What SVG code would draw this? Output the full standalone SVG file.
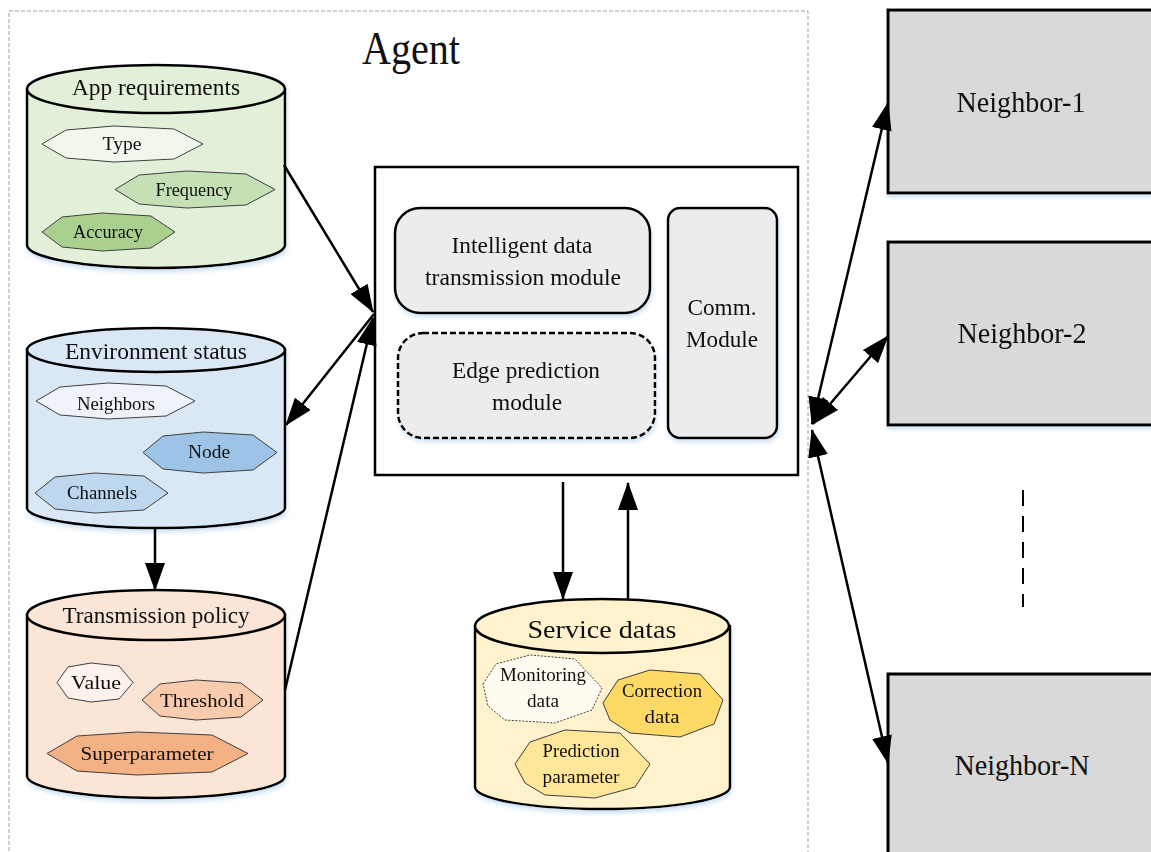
<svg xmlns="http://www.w3.org/2000/svg" width="1151" height="852" viewBox="0 0 1151 852">
<defs>
<marker id="ah" viewBox="0 0 28 20" refX="27" refY="10" markerWidth="28" markerHeight="20" markerUnits="userSpaceOnUse" orient="auto-start-reverse">
<path d="M0,0 L28,10 L0,20 Z" fill="#000"/>
</marker>
<filter id="sh" x="-10%" y="-10%" width="120%" height="125%">
<feDropShadow dx="1" dy="3" stdDeviation="2" flood-color="#9dc3e6" flood-opacity="0.5"/>
</filter>
</defs>
<style>
text{font-family:"Liberation Serif","Times New Roman",serif;fill:#111;text-anchor:middle}
.cyl{stroke:#000;stroke-width:2.5}
.hex{stroke:#404040;stroke-width:1}
.lbl{font-size:24px}
.hl{font-size:19.5px}
.sl{font-size:18.5px}
.mod{font-size:23px}
.nb{font-size:29px}
.con{stroke:#000;stroke-width:2.5;fill:none}
.nbox{fill:#d9d9d9;stroke:#000;stroke-width:3}
</style>
<rect width="1151" height="852" fill="#fff"/>

<g id="agent-frame">
<rect x="9" y="11" width="799" height="860" fill="none" stroke="#a0a0a0" stroke-width="1" stroke-dasharray="4 2"/>
<text x="411" y="64" font-size="46" textLength="98" lengthAdjust="spacingAndGlyphs">Agent</text>
</g>

<g id="app-requirements" filter="url(#sh)">
<path class="cyl" fill="#e2efd9" d="M27,89 V245 A129,23 0 0 0 285,245 V89 Z"/>
<ellipse class="cyl" cx="156" cy="89" rx="129" ry="24" fill="#e2efd9"/>
<text class="lbl" x="156" y="95" textLength="168" lengthAdjust="spacingAndGlyphs">App requirements</text>
<polygon class="hex" fill="#f1f7ec" points="42,144 66,130 114,126 174,129 203,144 174,159 114,162 66,158"/>
<text class="hl" x="122" y="150" textLength="39" lengthAdjust="spacingAndGlyphs">Type</text>
<polygon class="hex" fill="#c5e0b4" points="115,189.5 139,175 187,171 246,174 275,189.5 246,205 187,208 139,204"/>
<text class="hl" x="194" y="196" textLength="77" lengthAdjust="spacingAndGlyphs">Frequency</text>
<polygon class="hex" fill="#a9d08e" points="42,232 62,217 102,213 151,216 175,232 151,248 102,251 62,247"/>
<text class="hl" x="108" y="238" textLength="70" lengthAdjust="spacingAndGlyphs">Accuracy</text>
</g>

<g id="environment-status" filter="url(#sh)">
<path class="cyl" fill="#dae7f4" d="M27,350 V508 A129,20 0 0 0 285,508 V350 Z"/>
<ellipse class="cyl" cx="156" cy="350" rx="129" ry="22" fill="#dae7f4"/>
<text class="lbl" x="156" y="359" textLength="182" lengthAdjust="spacingAndGlyphs">Environment status</text>
<polygon class="hex" fill="#eef4fa" points="36,401 60,387 108,383 166,386 195,401 166,416 108,419 60,415"/>
<text class="hl" x="116" y="410" textLength="78" lengthAdjust="spacingAndGlyphs">Neighbors</text>
<polygon class="hex" fill="#9dc3e6" points="143,452.5 163,436 203,432 253,435 277,452.5 253,470 203,473 163,469"/>
<text class="hl" x="209" y="458" textLength="42" lengthAdjust="spacingAndGlyphs">Node</text>
<polygon class="hex" fill="#bdd7ee" points="35,493 55,477 95,473 144,476 168,493 144,510 95,513 55,509"/>
<text class="hl" x="102" y="499" textLength="70" lengthAdjust="spacingAndGlyphs">Channels</text>
</g>

<g id="transmission-policy" filter="url(#sh)">
<path class="cyl" fill="#fbe5d6" d="M27,615 V776 A129,22 0 0 0 285,776 V615 Z"/>
<ellipse class="cyl" cx="156" cy="615" rx="129" ry="25" fill="#fbe5d6"/>
<text class="lbl" x="156" y="623" textLength="187" lengthAdjust="spacingAndGlyphs">Transmission policy</text>
<polygon class="hex" fill="#fdf3ec" points="57,682.5 68,667 91,663 119,666 133,682.5 119,699 91,702 68,698"/>
<text class="hl" x="96" y="689" textLength="50" lengthAdjust="spacingAndGlyphs">Value</text>
<polygon class="hex" fill="#f8cbad" points="142,700 160,684 196,680 241,683 263,700 241,717 196,720 160,716"/>
<text class="hl" x="202" y="707" textLength="84" lengthAdjust="spacingAndGlyphs">Threshold</text>
<polygon class="hex" fill="#f4b183" points="47,753.5 77,736 137,732 212,735 248,753.5 212,772 137,775 77,771"/>
<text class="hl" x="147" y="760" textLength="133" lengthAdjust="spacingAndGlyphs">Superparameter</text>
</g>

<g id="agent-core">
<rect x="375" y="167" width="423" height="308" fill="#fff" stroke="#000" stroke-width="2.5"/>
</g>

<g id="intelligent-module" filter="url(#sh)">
<rect x="395" y="208" width="255" height="105" rx="25" fill="#ececec" stroke="#000" stroke-width="2.5"/>
<text class="mod" x="522" y="253" textLength="141" lengthAdjust="spacingAndGlyphs">Intelligent data</text>
<text class="mod" x="523" y="285" textLength="196" lengthAdjust="spacingAndGlyphs">transmission module</text>
</g>

<g id="edge-prediction-module" filter="url(#sh)">
<rect x="398" y="333" width="257" height="105" rx="25" fill="#ececec" stroke="#000" stroke-width="2.5" stroke-dasharray="6 3"/>
<text class="mod" x="526" y="378" textLength="148" lengthAdjust="spacingAndGlyphs">Edge prediction</text>
<text class="mod" x="527" y="410" textLength="70" lengthAdjust="spacingAndGlyphs">module</text>
</g>

<g id="comm-module" filter="url(#sh)">
<rect x="668" y="208" width="109" height="230" rx="12" fill="#ececec" stroke="#000" stroke-width="2.5"/>
<text class="mod" x="722" y="315" textLength="69" lengthAdjust="spacingAndGlyphs">Comm.</text>
<text class="mod" x="722" y="347" textLength="72" lengthAdjust="spacingAndGlyphs">Module</text>
</g>

<g id="service-datas" filter="url(#sh)">
<path class="cyl" fill="#fff2cc" d="M475,626 V787 A127,22 0 0 0 730,787 V626 Z"/>
<ellipse class="cyl" cx="602" cy="626" rx="127" ry="27" fill="#fff2cc"/>
<text x="602" y="638" font-size="26" textLength="149" lengthAdjust="spacingAndGlyphs">Service datas</text>
<polygon fill="#fffbf0" stroke="#404040" stroke-width="1" stroke-dasharray="2 1.5" points="483,684 496,664 530,655 575,659 602,688 592,710 555,723 505,720 488,706"/>
<text class="sl" x="543" y="681" textLength="86" lengthAdjust="spacingAndGlyphs">Monitoring</text>
<text class="sl" x="543" y="707" textLength="32" lengthAdjust="spacingAndGlyphs">data</text>
<polygon class="hex" fill="#ffd966" points="603,703 618,680 650,670 700,674 723,700 714,724 680,737 630,733 610,720"/>
<text class="sl" x="662" y="697" textLength="80" lengthAdjust="spacingAndGlyphs">Correction</text>
<text class="sl" x="662" y="723" textLength="35" lengthAdjust="spacingAndGlyphs">data</text>
<polygon class="hex" fill="#ffe699" points="515,764 530,742 565,730 620,733 650,764 635,787 595,798 545,795 525,783"/>
<text class="sl" x="581" y="757" textLength="77" lengthAdjust="spacingAndGlyphs">Prediction</text>
<text class="sl" x="581" y="783" textLength="77" lengthAdjust="spacingAndGlyphs">parameter</text>
</g>

<g id="neighbor-1" filter="url(#sh)">
<rect class="nbox" x="888" y="10" width="280" height="183"/>
<text class="nb" x="1021" y="112" textLength="129" lengthAdjust="spacingAndGlyphs">Neighbor-1</text>
</g>
<g id="neighbor-2" filter="url(#sh)">
<rect class="nbox" x="888" y="242" width="280" height="183"/>
<text class="nb" x="1022" y="343" textLength="129" lengthAdjust="spacingAndGlyphs">Neighbor-2</text>
</g>
<g id="neighbor-n">
<rect class="nbox" x="888" y="674" width="280" height="200"/>
<text class="nb" x="1022" y="775" textLength="135" lengthAdjust="spacingAndGlyphs">Neighbor-N</text>
</g>
<g id="ellipsis">
<line x1="1023" y1="490" x2="1023" y2="607" stroke="#000" stroke-width="2" stroke-dasharray="16 10"/>
</g>

<g id="connectors">
<line class="con" x1="284" y1="165" x2="373" y2="312" marker-end="url(#ah)"/>
<line class="con" x1="374" y1="314" x2="286" y2="425" marker-end="url(#ah)"/>
<line class="con" x1="285" y1="690" x2="373" y2="318" marker-end="url(#ah)"/>
<line class="con" x1="155" y1="529" x2="155" y2="590" marker-end="url(#ah)"/>
<line class="con" x1="563" y1="482" x2="563" y2="599" marker-end="url(#ah)"/>
<line class="con" x1="628" y1="600" x2="628" y2="483" marker-end="url(#ah)"/>
<line class="con" x1="812" y1="424" x2="888" y2="103" marker-start="url(#ah)" marker-end="url(#ah)"/>
<line class="con" x1="813" y1="424" x2="888" y2="336" marker-start="url(#ah)" marker-end="url(#ah)"/>
<line class="con" x1="812" y1="430" x2="888" y2="763" marker-start="url(#ah)" marker-end="url(#ah)"/>
</g>
</svg>
